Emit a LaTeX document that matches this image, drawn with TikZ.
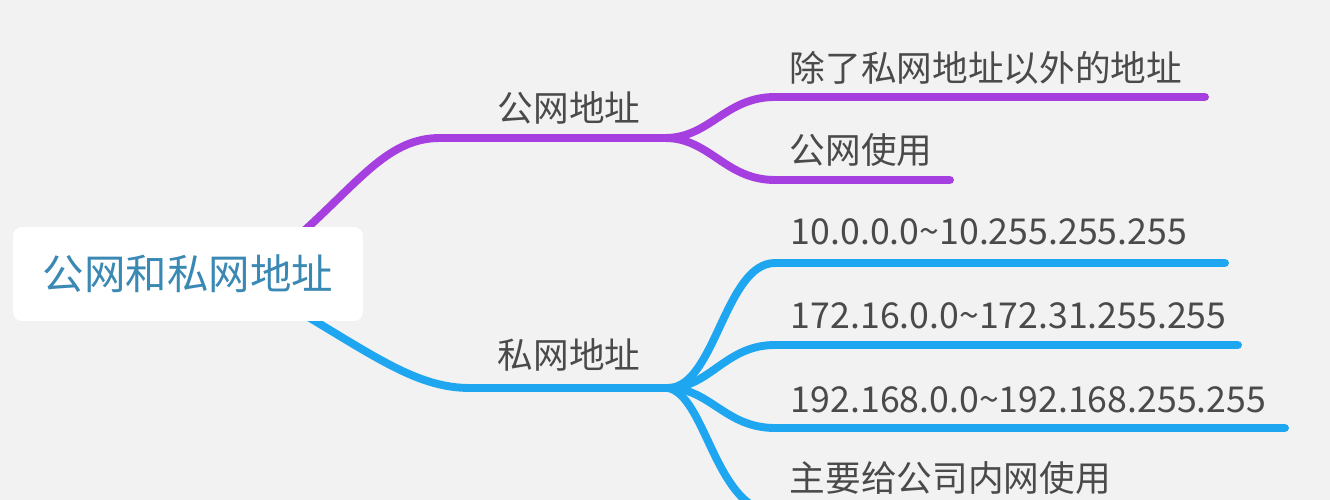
\documentclass[tikz,border=0pt]{standalone}
\usepackage{fontspec}
\setmainfont{Noto Sans CJK SC}
\usepackage{tikz}
\usetikzlibrary{arrows}

\definecolor{bg}{HTML}{F2F2F2}
\definecolor{pub}{HTML}{A63FE0}
\definecolor{priv}{HTML}{1EA7F0}
\definecolor{txt}{HTML}{4A4A4A}
\definecolor{roottxt}{HTML}{3A89B4}

\begin{document}
\begin{tikzpicture}[x=0.02cm,y=-0.02cm,line cap=round,line width=4.5pt]
  \tikzstyle{every node}=[inner sep=0pt,anchor=west,text=txt,
                          font=\fontsize{20.3}{24}\selectfont]
  \tikzstyle{root}=[fill=white,rounded corners=5pt,anchor=center,
                    minimum width=7cm,minimum height=1.88cm,text=roottxt,
                    font=\fontsize{23.6}{28}\selectfont]

  \fill[bg] (0,0) rectangle (1330,500);
  \useasboundingbox (0,0) rectangle (1330,500);
  \clip (0,0) rectangle (1330,500);

  % forks and line ends
  \coordinate (r1) at (305,230);
  \coordinate (r2) at (305,315);
  \coordinate (a)  at (665,138);
  \coordinate (b)  at (668,388);
  \coordinate (a1) at (1205,97);
  \coordinate (a2) at (950,180);
  \coordinate (b1) at (1225,263);
  \coordinate (b2) at (1238,345);
  \coordinate (b3) at (1285,428);
  \coordinate (b4) at (1110,512);

  % public branch
  \draw[pub] (r1) .. controls (362,178) and (390,138) .. (440,138) -- (a);
  \draw[pub] (a) .. controls (710,138) and (725,97) .. (775,97) -- (a1);
  \draw[pub] (a) .. controls (710,138) and (725,180) .. (775,180) -- (a2);

  % private branch
  \draw[priv] (r2) .. controls (380,360) and (420,388) .. (470,388) -- (b);
  \draw[priv] (b) .. controls (715,388) and (725,263) .. (775,263) -- (b1);
  \draw[priv] (b) .. controls (710,388) and (725,345) .. (775,345) -- (b2);
  \draw[priv] (b) .. controls (710,388) and (725,428) .. (775,428) -- (b3);
  \draw[priv] (b) .. controls (705,395) and (715,505) .. (770,512) -- (b4);

  \node[root] (R)  at (188,274) {公网和私网地址};

  \node       (A)  at (494,108) {公网地址};
  \node       (A1) at (786,68)  {除了私网地址以外的地址};
  \node       (A2) at (786,150) {公网使用};
  \node       (B)  at (494,355) {私网地址};
  \node       (B1) at (787,232) {10.0.0.0\textasciitilde10.255.255.255};
  \node       (B2) at (787,316) {172.16.0.0\textasciitilde172.31.255.255};
  \node       (B3) at (787,400) {192.168.0.0\textasciitilde192.168.255.255};
  \node       (B4) at (786,478) {主要给公司内网使用};
\end{tikzpicture}
\end{document}
